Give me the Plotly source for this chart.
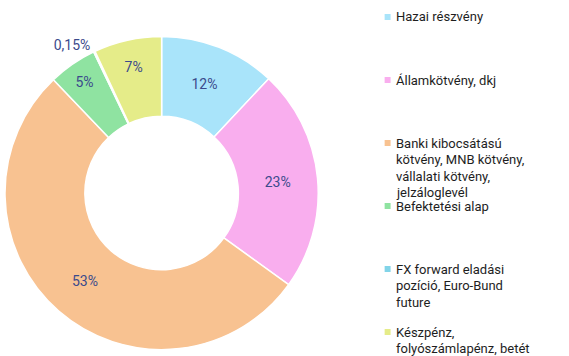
import plotly.graph_objects as go

# Portfolio composition (share of total, %)
labels = [
    "Hazai részvény",
    "Államkötvény, dkj",
    "Banki kibocsátású<br>kötvény, MNB kötvény,<br>vállalati kötvény,<br>jelzáloglevél",
    "Befektetési alap",
    "FX forward eladási<br>pozíció, Euro-Bund<br>future",
    "Készpénz,<br>folyószámlapénz, betét",
]
values = [12, 23, 53, 5, 0.15, 7]
colors = ["#a9e4fa", "#f9aeee", "#f8c291", "#8fe3a1", "#82d4e8", "#e5ec89"]
text_positions = ["inside", "inside", "inside", "inside", "outside", "inside"]

W, H = 569, 356
FONT = "Roboto, Arial, sans-serif"

fig = go.Figure()
fig.add_trace(go.Pie(
    labels=labels,
    values=values,
    hole=0.49,
    sort=False,
    direction="clockwise",
    rotation=0,
    marker=dict(colors=colors, line=dict(color="white", width=1.5)),
    texttemplate="%{value}%",
    textposition=text_positions,
    insidetextorientation="horizontal",
    textfont=dict(family=FONT, size=14, color="#3b4a8c"),
    showlegend=False,
    domain=dict(x=[0 / W, 316 / W], y=[5 / H, 321 / H]),
))

# Legend drawn as swatches + one text line per annotation
leg_x0 = 383
first_line = 17     # centre of the first legend line (px from top)
item_step = 63      # distance between legend entries
line_step = 16.5    # distance between wrapped lines of one entry
shapes, annotations = [], []
for i, (lab, col) in enumerate(zip(labels, colors)):
    yc = first_line + i * item_step
    shapes.append(dict(
        type="rect", xref="paper", yref="paper",
        x0=leg_x0 / W, x1=(leg_x0 + 6) / W,
        y0=1 - (yc + 3) / H, y1=1 - (yc - 3) / H,
        fillcolor=col, line=dict(width=0),
    ))
    for j, line in enumerate(lab.split("<br>")):
        annotations.append(dict(
            xref="paper", yref="paper",
            x=(leg_x0 + 9) / W, y=1 - (yc + j * line_step) / H,
            xanchor="left", yanchor="middle", align="left",
            text=line, showarrow=False,
            font=dict(family=FONT, size=13, color="#1e1e1e"),
        ))

fig.update_layout(
    width=W, height=H,
    margin=dict(l=0, r=0, t=0, b=0),
    paper_bgcolor="white",
    plot_bgcolor="white",
    separators=", ",
    shapes=shapes,
    annotations=annotations,
)

fig.write_html("out.html")
